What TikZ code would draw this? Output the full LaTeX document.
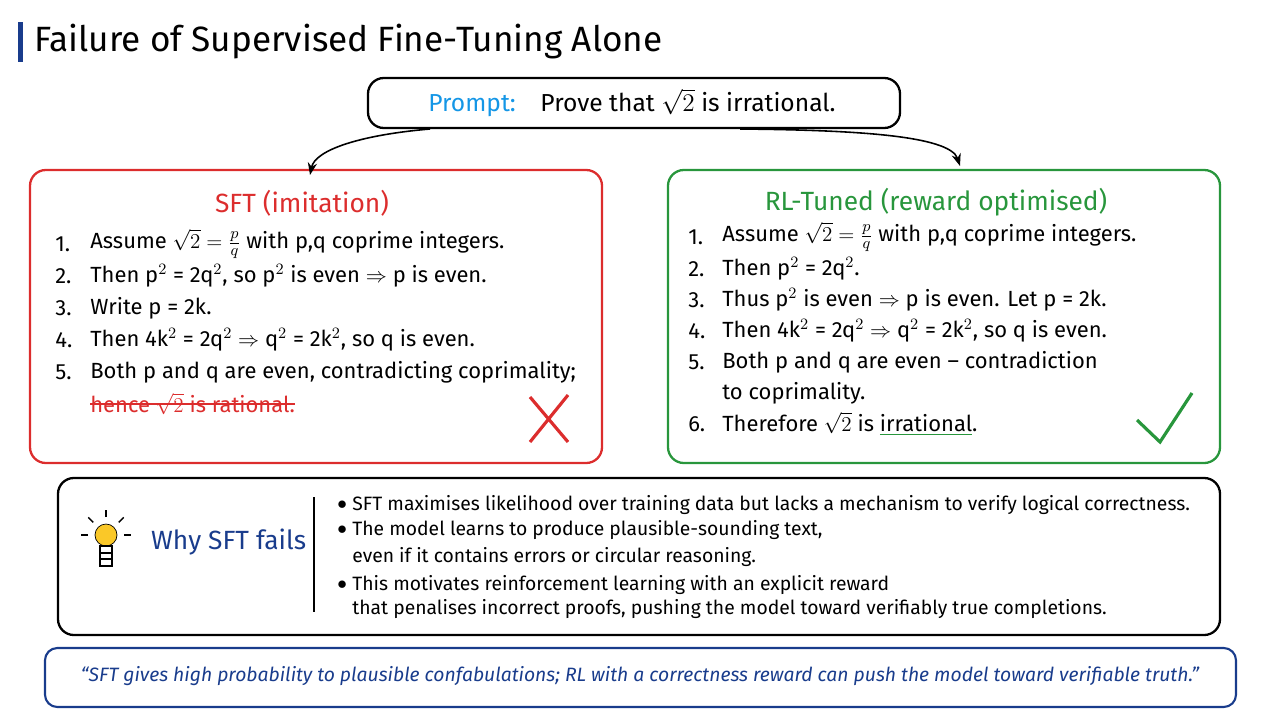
\documentclass[tikz,border=0pt]{standalone}
\usepackage{amsmath}
\usepackage{fontspec}
\setmainfont{Fira Sans}
\usepackage{tikz}
\usetikzlibrary{arrows.meta}
\definecolor{sftred}{RGB}{220,45,45}
\definecolor{rlgreen}{RGB}{40,150,60}
\definecolor{promptblue}{RGB}{20,150,230}
\definecolor{navy}{RGB}{25,60,140}
\definecolor{bulb}{RGB}{250,200,40}
\begin{document}
\begin{tikzpicture}[x=0.02cm,y=-0.02cm,
  panel/.style={draw=#1,line width=1.3pt,rounded corners=9pt},
  item/.style={anchor=west,font=\fontsize{12.5}{14}\selectfont,inner sep=0pt},
  bull/.style={anchor=west,font=\fontsize{11}{13}\selectfont,inner sep=0pt},
  head/.style={font=\fontsize{15}{18}\selectfont,text=#1}]
\useasboundingbox (0,0) rectangle (1280,720);
% title
\fill[navy] (18,22) rectangle (23,62);
\node[anchor=west,font=\fontsize{20}{24}\selectfont] (title) at (28,42) {Failure of Supervised Fine-Tuning Alone};
% prompt
\node[panel=black,minimum width=532*0.02cm,minimum height=50*0.02cm] (prompt) at (634,103) {};
\node[font=\fontsize{14}{16}\selectfont] (ptext) at (632,103) {\textcolor{promptblue}{Prompt:}\quad Prove that $\sqrt{2}$ is irrational.};
\coordinate (pl) at (430,129);
\coordinate (pr) at (740,129);
% left panel
\draw[panel=sftred] (30,170) rectangle (602,463);
\node[head=sftred] (sfthead) at (302,203) {SFT (imitation)};
\foreach \y/\n/\t in {244/1./{Assume $\sqrt{2}=\frac{p}{q}$ with p,q coprime integers.},
  276/2./{Then p$^2$ = 2q$^2$, so p$^2$ is even $\Rightarrow$ p is even.},
  308/3./{Write p = 2k.},
  340/4./{Then 4k$^2$ = 2q$^2$ $\Rightarrow$ q$^2$ = 2k$^2$, so q is even.},
  372/5./{Both p and q are even, contradicting coprimality;}} {
  \node[item] at (55,\y) {\n};
  \node[item] at (90,\y) {\t};
}
\node[item,text=sftred] (hence) at (90,404) {hence $\sqrt{2}$ is rational.};
\draw[sftred,line width=1pt] (hence.west) -- (hence.east);
\draw[sftred,line width=1.8pt] (530,397) -- (568,442) (568,395) -- (530,442);
% right panel
\draw[panel=rlgreen] (668,170) rectangle (1220,463);
\node[head=rlgreen] (rlhead) at (936,202) {RL-Tuned (reward optimised)};
\foreach \y/\n/\t in {237/1./{Assume $\sqrt{2}=\frac{p}{q}$ with p,q coprime integers.},
  269/2./{Then p$^2$ = 2q$^2$.},
  300/3./{Thus p$^2$ is even $\Rightarrow$ p is even. Let p = 2k.},
  331/4./{Then 4k$^2$ = 2q$^2$ $\Rightarrow$ q$^2$ = 2k$^2$, so q is even.},
  362/5./{Both p and q are even -- contradiction},
  424/6./{Therefore $\sqrt{2}$ is \textcolor{rlgreen}{\underline{\textcolor{black}{irrational}}}.}} {
  \node[item] at (688,\y) {\n};
  \node[item] at (722,\y) {\t};
}
\node[item] at (722,393) {to coprimality.};
\draw[rlgreen,line width=1.8pt] (1137,420) -- (1160,442) -- (1192,393);
% arrows
\draw[-{Stealth[length=7pt]},line width=0.9pt] (pl) .. controls (360,135) and (315,150) .. (310,175);
\draw[-{Stealth[length=7pt]},line width=0.9pt] (pr) .. controls (850,130) and (950,135) .. (960,166);
% why box
\draw[panel=black] (58,478) rectangle (1220,635);
\node[circle,draw,fill=bulb,minimum size=22*0.02cm,inner sep=0pt] (bulbc) at (106,535) {};
\draw[line width=0.8pt,fill=white] (100,546) rectangle (112,566);
\draw[line width=0.6pt] (100,553) -- (112,553) (100,559) -- (112,559);
\foreach \a in {0,45,90,135,180} \draw[line width=0.8pt] (106,535) ++(\a+180:18) -- ++(\a+180:7);
\node[font=\fontsize{15}{18}\selectfont,text=navy,anchor=west] (why) at (145,542) {Why SFT fails};
\draw[line width=0.7pt] (314,497) -- (314,612);
\foreach \y/\t in {505/{SFT maximises likelihood over training data but lacks a mechanism to verify logical correctness.},
  530/{The model learns to produce plausible-sounding text,},
  585/{This motivates reinforcement learning with an explicit reward}} {
  \node[bull] at (337,\y) {$\bullet$};
  \node[bull] at (352,\y) {\t};
}
\node[bull] at (352,557) {even if it contains errors or circular reasoning.};
\node[bull] at (352,609) {that penalises incorrect proofs, pushing the model toward verifiably true completions.};
% quote
\draw[draw=navy,line width=1.2pt,rounded corners=7pt] (45,648) rectangle (1236,707);
\node[font=\fontsize{11}{13}\selectfont\itshape,text=navy] (quote) at (640,676) {``SFT gives high probability to plausible confabulations; RL with a correctness reward can push the model toward verifiable truth.''};
\end{tikzpicture}
\end{document}
